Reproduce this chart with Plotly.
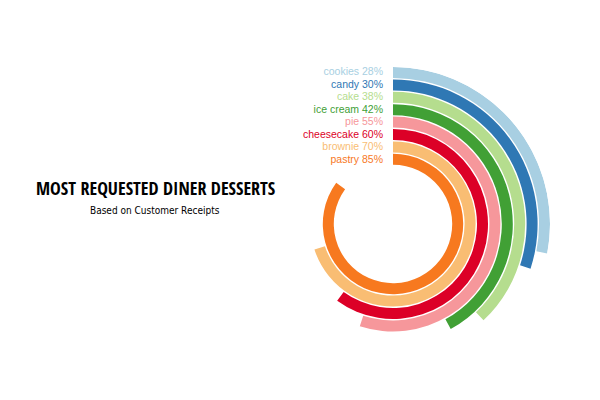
import math
import plotly.graph_objects as go

categories = ["cookies", "candy", "cake", "ice cream", "pie", "cheesecake", "brownie", "pastry"]
values = [28, 30, 38, 42, 55, 60, 70, 85]
colors = ["#a8cfe2", "#2f78b4", "#b5dd8e", "#41a035", "#f6979b", "#dc0027", "#f9bd73", "#f7791f"]
title_text = "MOST REQUESTED DINER DESSERTS"
subtitle_text = "Based on Customer Receipts"

# geometry (pixels)
cx, cy = 393, 224
outer = 157.0
pitch = 12.4
thick = 11.0
label_gap_px = 10

n = len(categories)
bases = [outer - thick - pitch * i for i in range(n)]

fig = go.Figure()
for cat, v, c, b in zip(categories, values, colors, bases):
    span = v / 100 * 360
    fig.add_trace(go.Barpolar(
        r=[thick], base=[b], theta=[span / 2], width=[span],
        marker=dict(color=c, line=dict(width=0)),
        name=cat, showlegend=False, hoverinfo="skip",
    ))
    rm = b + thick / 2
    dth = math.degrees(math.asin(label_gap_px / rm))
    fig.add_trace(go.Scatterpolar(
        r=[rm], theta=[-dth], mode="text",
        text=[f"{cat} {v}%"], textposition="middle left",
        textfont=dict(family="Arial", size=10.5, color=c),
        showlegend=False, hoverinfo="skip",
    ))

fig.update_layout(
    width=600, height=400,
    margin=dict(l=0, r=0, t=0, b=0),
    paper_bgcolor="white", plot_bgcolor="white",
    polar=dict(
        domain=dict(x=[(cx - outer) / 600, (cx + outer) / 600],
                    y=[(400 - cy - outer) / 400, (400 - cy + outer) / 400]),
        bgcolor="white",
        radialaxis=dict(range=[0, outer], visible=False, showgrid=False),
        angularaxis=dict(rotation=90, direction="clockwise", visible=False, showgrid=False),
    ),
    annotations=[
        dict(text=title_text, x=155 / 600, y=(400 - 188) / 400, xref="paper", yref="paper",
             showarrow=False, xanchor="center", yanchor="middle",
             font=dict(family="Open Sans Condensed", size=18, color="black", weight=800)),
        dict(text=subtitle_text, x=155 / 600, y=(400 - 210) / 400, xref="paper", yref="paper",
             showarrow=False, xanchor="center", yanchor="middle",
             font=dict(family="DejaVu Sans Condensed, sans-serif", size=10, color="black")),
    ],
)

fig.write_html("out.html")
